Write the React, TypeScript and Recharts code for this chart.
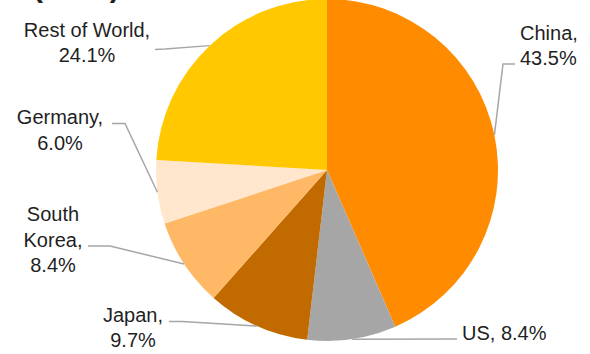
import React from 'react';
import { PieChart, Pie, Cell } from 'recharts';

const countries = ['China', 'US', 'Japan', 'South Korea', 'Germany', 'Rest of World'];
const shares = [43.5, 8.4, 9.7, 8.4, 6.0, 24.1];
const colors = ['#FF8C00', '#A6A6A6', '#C06A00', '#FFB866', '#FFE6CC', '#FFC800'];

const data = countries.map((name, i) => ({ name, value: shares[i] }));

// label text lines + leader line elbows (anchor, text x, first baseline, line break points)
type LabelLayout = {
  lines: (v: string) => string[];
  anchor: 'start' | 'middle';
  tx: number;
  ty: number;
  path: [number, number][];
};

const labelLayout: Record<string, LabelLayout> = {
  China: { lines: (v) => ['China,', v], anchor: 'start', tx: 520, ty: 39.5, path: [[503, 64], [515, 64]] },
  US: { lines: (v) => [`US, ${v}`], anchor: 'start', tx: 462, ty: 339.5, path: [[457, 339]] },
  Japan: { lines: (v) => ['Japan,', v], anchor: 'middle', tx: 133, ty: 321.5, path: [[182, 321.5], [169, 321.5]] },
  'South Korea': { lines: (v) => ['South', 'Korea,', v], anchor: 'middle', tx: 53, ty: 221, path: [[110, 246], [88, 246]] },
  Germany: { lines: (v) => ['Germany,', v], anchor: 'middle', tx: 60, ty: 124, path: [[125, 123.5], [112, 123.5]] },
  'Rest of World': { lines: (v) => ['Rest of World,', v], anchor: 'middle', tx: 87, ty: 36.5, path: [[165, 49], [155, 49.5]] },
};

const RAD = Math.PI / 180;

const renderLabel = (props: any) => {
  const { cx, cy, midAngle, outerRadius, name, value, index } = props;
  const layout = labelLayout[name];
  if (!layout) return null;
  const ex = cx + outerRadius * Math.cos(-midAngle * RAD);
  const ey = cy + outerRadius * Math.sin(-midAngle * RAD);
  const pts = [[ex, ey], ...layout.path].map((p) => p.join(',')).join(' ');
  const lines = layout.lines(`${Number(value).toFixed(1)}%`);
  return (
    <g key={`lbl-${index}`}>
      <polyline points={pts} fill="none" stroke="#A6A6A6" strokeWidth={1.5} />
      <text
        x={layout.tx}
        y={layout.ty}
        textAnchor={layout.anchor}
        fill="#1F1F1F"
        fontSize={20}
        fontFamily="'Liberation Sans', Arial, sans-serif"
      >
        {lines.map((l, i) => (
          <tspan key={i} x={layout.tx} dy={i === 0 ? 0 : 25.5}>
            {l}
          </tspan>
        ))}
      </text>
    </g>
  );
};

export default function App() {
  return (
    <div style={{ position: 'fixed', left: 0, top: 0, width: 590, height: 354, background: '#fff' }}>
      <svg width={590} height={354} style={{ position: 'absolute', left: 0, top: 0 }}>
        <text x={33} y={-3} fontSize={30} fontWeight="bold" fill="#1F1F1F" fontFamily="'Liberation Sans', Arial, sans-serif">
          (2023)
        </text>
      </svg>
      <div style={{ position: 'absolute', left: 0, top: 0 }}>
        <PieChart width={590} height={354} margin={{ top: 0, right: 0, bottom: 0, left: 0 }}>
          <Pie
            data={data}
            dataKey="value"
            nameKey="name"
            cx={327}
            cy={170}
            outerRadius={171}
            startAngle={90}
            endAngle={-270}
            stroke="none"
            label={renderLabel}
            labelLine={false}
            isAnimationActive={false}
          >
            {data.map((d, i) => (
              <Cell key={d.name} fill={colors[i]} />
            ))}
          </Pie>
        </PieChart>
      </div>
    </div>
  );
}
